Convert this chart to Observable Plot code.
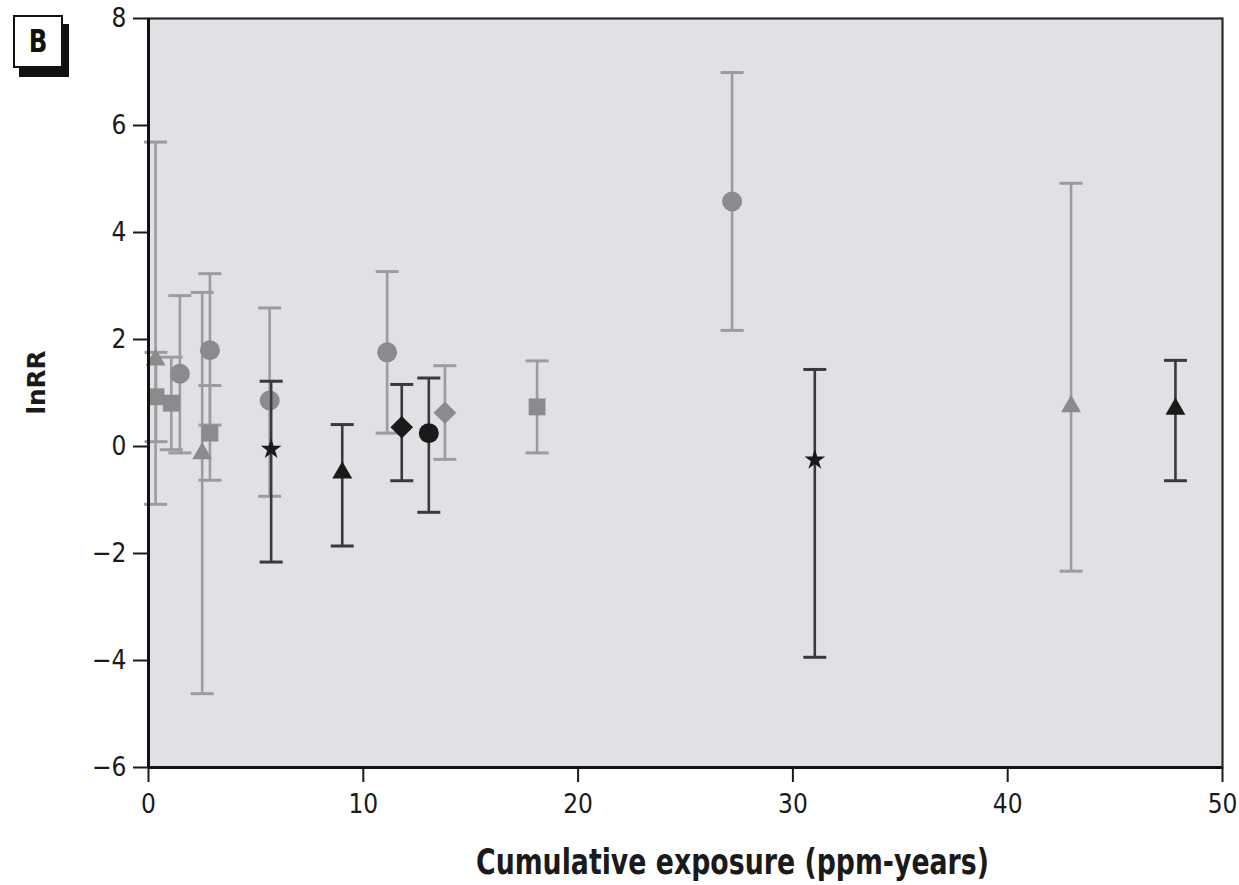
<!DOCTYPE html>
<html>
<head>
<meta charset="utf-8">
<script src="https://cdn.jsdelivr.net/npm/d3@7"></script>
<script src="https://cdn.jsdelivr.net/npm/@observablehq/plot@0.6"></script>
<style>
  html, body { margin: 0; padding: 0; background: #fff; }
  #wrap { position: relative; width: 1239px; height: 885px; }
  #panel {
    position: absolute; left: 13px; top: 15px; width: 46px; height: 49px;
    border: 2px solid #111; background: #fff; box-shadow: 6px 9px 0 #111;
    font-family: "Liberation Sans Narrow", "Arial Narrow", "DejaVu Sans Condensed", "Liberation Sans", sans-serif;
    font-weight: bold; font-size: 32px; line-height: 49px; text-align: center; color: #111;
  }
  #panel span { display: inline-block; transform: scaleX(0.85); }
</style>
</head>
<body>
<div id="wrap"><div id="panel"><span>B</span></div></div>
<script>
// ---- data ----
const exposure = [0.33, 0.35, 1.06, 1.46, 2.5, 2.86, 2.86, 5.64, 5.71, 9.02, 11.11, 11.79, 13.05, 13.8, 18.09, 27.17, 31.02, 42.95, 47.81];
const lnRR     = [1.62, 0.93, 0.81, 1.36, -0.13, 1.80, 0.25, 0.86, -0.05, -0.49, 1.76, 0.36, 0.25, 0.63, 0.74, 4.58, -0.25, 0.75, 0.70];
const lower    = [-1.08, 0.09, -0.06, -0.12, -4.62, 0.40, -0.63, -0.93, -2.16, -1.86, 0.25, -0.64, -1.23, -0.24, -0.12, 2.17, -3.94, -2.33, -0.64];
const upper    = [5.69, 1.76, 1.67, 2.82, 2.88, 3.23, 1.14, 2.59, 1.22, 0.41, 3.27, 1.16, 1.28, 1.51, 1.60, 6.99, 1.44, 4.92, 1.61];
const shape    = ["triangle","square","square","circle","triangle","circle","square","circle","star","triangle","circle","diamond","circle","diamond","square","circle","star","triangle","triangle"];
const tone     = ["gray","gray","gray","gray","gray","gray","gray","gray","black","black","gray","black","black","gray","gray","gray","black","gray","black"];
const xTicks = [0, 10, 20, 30, 40, 50];
const yTicks = [-6, -4, -2, 0, 2, 4, 6, 8];
const xTitle = "Cumulative exposure (ppm-years)";
const yTitle = "lnRR";

const rows = exposure.map((x, i) => ({x, y: lnRR[i], lo: lower[i], hi: upper[i], shape: shape[i], tone: tone[i]}));

const FONT = '"Liberation Sans Narrow", "Arial Narrow", "DejaVu Sans Condensed", "Liberation Sans", sans-serif';
const markerColor = {gray: "#8b8b8d", black: "#1a1a1a"};
const barColor = {gray: "#9c9c9f", black: "#3a3a3a"};
const symbolOf = {circle: "circle", square: "square", triangle: "triangle", diamond: "diamond2", star: "star"};
const radiusOf = {circle: 10, square: 9.5, triangle: 7.4, diamond: 10.2, star: 6.5};
const cap = {draw(ctx) { ctx.moveTo(-11.5, 0); ctx.lineTo(11.5, 0); }};

function layer(t) {
  const d = rows.filter(r => r.tone === t);
  const marks = [
    Plot.ruleX(d, {x: "x", y1: "lo", y2: "hi", stroke: barColor[t], strokeWidth: 2.6}),
    Plot.dot(d, {x: "x", y: "lo", symbol: cap, r: 5, fill: "none", stroke: barColor[t], strokeWidth: 3}),
    Plot.dot(d, {x: "x", y: "hi", symbol: cap, r: 5, fill: "none", stroke: barColor[t], strokeWidth: 3})
  ];
  for (const s of Object.keys(symbolOf)) {
    const ds = d.filter(r => r.shape === s);
    if (ds.length) marks.push(Plot.dot(ds, {x: "x", y: "y", symbol: symbolOf[s], r: radiusOf[s], fill: markerColor[t], stroke: "none"}));
  }
  return marks;
}

const chart = Plot.plot({
  width: 1239, height: 885,
  marginLeft: 148, marginRight: 17, marginTop: 18, marginBottom: 118,
  style: {fontFamily: FONT, background: "transparent", color: "#1a1a1a"},
  x: {domain: [0, 50]},
  y: {domain: [-6, 8]},
  marks: [
    Plot.frame({fill: "#e1e0e5", stroke: "none"}),
    ...layer("gray"),
    ...layer("black"),
    Plot.axisX({ticks: xTicks, tickSize: 15, tickPadding: 12, fontSize: 26, label: null, strokeWidth: 2}),
    Plot.axisY({ticks: yTicks, tickSize: 15, tickPadding: 7, fontSize: 26, label: null, strokeWidth: 2}),
    Plot.frame({stroke: "#2a2a2a", strokeWidth: 2.2}),
    Plot.ruleX([0], {stroke: "#111", strokeWidth: 3}),
    Plot.ruleY([-6], {stroke: "#111", strokeWidth: 3}),
    Plot.text([xTitle], {frameAnchor: "bottom", textAnchor: "middle", lineAnchor: "middle", dx: 47, dy: 95, fontSize: 35, fontWeight: "bold", fill: "#1a1a1a"}),
    Plot.text([yTitle], {frameAnchor: "left", textAnchor: "middle", lineAnchor: "middle", dx: -111.5, dy: -10.5, rotate: -90, fontSize: 25, fontWeight: "bold", fill: "#1a1a1a"})
  ]
});
// condense the two titles to the reference's narrow type width
chart.querySelectorAll("text").forEach(t => {
  if (t.textContent === xTitle) { t.setAttribute("textLength", 513); t.setAttribute("lengthAdjust", "spacingAndGlyphs"); }
  if (t.textContent === yTitle) { t.setAttribute("textLength", 64); t.setAttribute("lengthAdjust", "spacingAndGlyphs"); }
});
chart.style.position = "absolute";
chart.style.left = "0px";
chart.style.top = "0px";
document.getElementById("wrap").prepend(chart);
</script>
</body>
</html>
